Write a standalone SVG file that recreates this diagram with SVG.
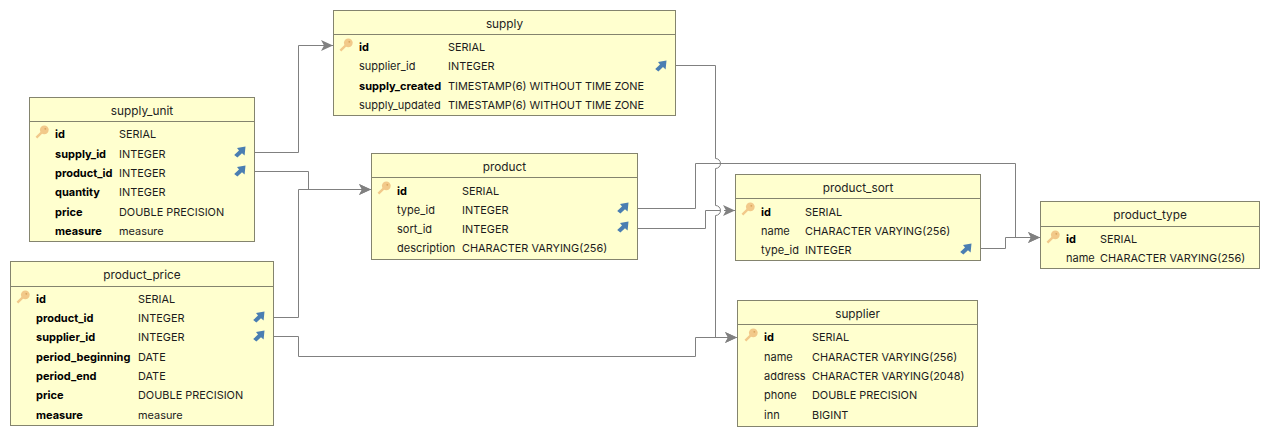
<svg xmlns="http://www.w3.org/2000/svg" width="1269" height="436" viewBox="0 0 1269 436">
<style>
text{font-family:Inter,"Noto Sans","Liberation Sans",sans-serif;font-size:11px;fill:#1c1c1c}
.t{font-size:11.8px;text-anchor:middle;fill:#222}
.b{font-weight:700;fill:#000}
.d{font-size:10.92px}
.box{fill:#ffffcf;stroke:#84846e;stroke-width:1}
.h{stroke:#84846e;stroke-width:1;fill:none}
.c{fill:none;stroke:#808080;stroke-width:1}
</style>
<defs>
<marker id="a" markerUnits="userSpaceOnUse" markerWidth="13" markerHeight="12" refX="12" refY="6" orient="auto"><path d="M0 0.5L12 6L0 11.5L3 6Z" fill="#808080"/></marker>
<g id="key"><circle cx="9.3" cy="4.8" r="4.4" fill="#f2c98a"/><circle cx="10.3" cy="3.8" r="0.9" fill="#d9a55c"/><path d="M6.5 7.6L1.4 12.7" stroke="#f2c98a" stroke-width="2.4" fill="none"/></g>
<g id="fk"><path d="M3 1.5L11.5 0L10.6 9L8 6.6L3.4 11L0.2 8.4L5 4Z" fill="#4a7eb2"/></g>
</defs>
<g id="connectors">
<path class="c" marker-end="url(#a)" d="M676 65.5H715.5V158.5A5 5 0 0 1 715.5 168.5V205.5A5 5 0 0 1 715.5 215.5V337.5H737"/>
<path class="c" marker-end="url(#a)" d="M638 208.5H695.5V163.5H1015.5V237.5H1040"/>
<path class="c" d="M638 228.5H705.5V210.5H720.5"/>
<path class="c" marker-end="url(#a)" d="M724 210.5H735"/>
<path class="c" marker-end="url(#a)" d="M981 248.5H1005.5V237.5H1040"/>
<path class="c" marker-end="url(#a)" d="M255 152.5H298.5V45.5H333"/>
<path class="c" marker-end="url(#a)" d="M255 171.5H308.5V189.5H371"/>
<path class="c" marker-end="url(#a)" d="M274 317.5H298.5V189.5H371"/>
<path class="c" marker-end="url(#a)" d="M274 336.5H298.5V356.5H695.5V337.5H737"/>
</g>
<g id="supply">
<rect class="box" x="333.5" y="10.5" width="342" height="105"/><path class="h" d="M333.5 34.5H675.5"/>
<text class="t" x="504.5" y="28">supply</text>
<use href="#key" x="339" y="38"/><use href="#fk" x="655" y="60.5"/>
<text class="b" x="359" y="51">id</text><text class="d" x="448" y="51">SERIAL</text>
<text x="359" y="70">supplier_id</text><text class="d" x="448" y="70">INTEGER</text>
<text class="b" x="359" y="90">supply_created</text><text class="d" x="448" y="90">TIMESTAMP(6) WITHOUT TIME ZONE</text>
<text x="359" y="109">supply_updated</text><text class="d" x="448" y="109">TIMESTAMP(6) WITHOUT TIME ZONE</text>
</g>
<g id="supply_unit">
<rect class="box" x="29.5" y="97.5" width="225" height="144"/><path class="h" d="M29.5 121.5H254.5"/>
<text class="t" x="142" y="115">supply_unit</text>
<use href="#key" x="35" y="125"/><use href="#fk" x="234" y="146.6"/><use href="#fk" x="234" y="165.6"/>
<text class="b" x="55" y="138">id</text><text class="d" x="119" y="138">SERIAL</text>
<text class="b" x="55" y="158">supply_id</text><text class="d" x="119" y="158">INTEGER</text>
<text class="b" x="55" y="177">product_id</text><text class="d" x="119" y="177">INTEGER</text>
<text class="b" x="55" y="196">quantity</text><text class="d" x="119" y="196">INTEGER</text>
<text class="b" x="55" y="216">price</text><text class="d" x="119" y="216">DOUBLE PRECISION</text>
<text class="b" x="55" y="235">measure</text><text class="d" x="119" y="235">measure</text>
</g>
<g id="product_price">
<rect class="box" x="10.5" y="261.5" width="263" height="164"/><path class="h" d="M10.5 286.5H273.5"/>
<text class="t" x="142" y="279">product_price</text>
<use href="#key" x="16" y="290"/><use href="#fk" x="253" y="311.6"/><use href="#fk" x="253" y="330.6"/>
<text class="b" x="36" y="303">id</text><text class="d" x="138" y="303">SERIAL</text>
<text class="b" x="36" y="322">product_id</text><text class="d" x="138" y="322">INTEGER</text>
<text class="b" x="36" y="341">supplier_id</text><text class="d" x="138" y="341">INTEGER</text>
<text class="b" x="36" y="361">period_beginning</text><text class="d" x="138" y="361">DATE</text>
<text class="b" x="36" y="380">period_end</text><text class="d" x="138" y="380">DATE</text>
<text class="b" x="36" y="399">price</text><text class="d" x="138" y="399">DOUBLE PRECISION</text>
<text class="b" x="36" y="419">measure</text><text class="d" x="138" y="419">measure</text>
</g>
<g id="product">
<rect class="box" x="371.5" y="153.5" width="266" height="106"/><path class="h" d="M371.5 177.5H637.5"/>
<text class="t" x="504.5" y="171">product</text>
<use href="#key" x="377" y="181"/><use href="#fk" x="617" y="202.6"/><use href="#fk" x="617" y="221.6"/>
<text class="b" x="397" y="195">id</text><text class="d" x="462" y="195">SERIAL</text>
<text x="397" y="214">type_id</text><text class="d" x="462" y="214">INTEGER</text>
<text x="397" y="233">sort_id</text><text class="d" x="462" y="233">INTEGER</text>
<text x="397" y="252">description</text><text class="d" x="462" y="252">CHARACTER VARYING(256)</text>
</g>
<g id="product_sort">
<rect class="box" x="735.5" y="174.5" width="245" height="86"/><path class="h" d="M735.5 198.5H980.5"/>
<text class="t" x="858" y="192">product_sort</text>
<use href="#key" x="741" y="202"/><use href="#fk" x="960" y="243.6"/>
<text class="b" x="761" y="216">id</text><text class="d" x="805" y="216">SERIAL</text>
<text x="761" y="235">name</text><text class="d" x="805" y="235">CHARACTER VARYING(256)</text>
<text x="761" y="254">type_id</text><text class="d" x="805" y="254">INTEGER</text>
</g>
<g id="product_type">
<rect class="box" x="1040.5" y="201.5" width="219" height="67"/><path class="h" d="M1040.5 226.5H1259.5"/>
<text class="t" x="1150" y="219">product_type</text>
<use href="#key" x="1046" y="230"/>
<text class="b" x="1066" y="243">id</text><text class="d" x="1100" y="243">SERIAL</text>
<text x="1066" y="262">name</text><text class="d" x="1100" y="262">CHARACTER VARYING(256)</text>
</g>
<g id="supplier">
<rect class="box" x="737.5" y="300.5" width="240" height="126"/><path class="h" d="M737.5 324.5H977.5"/>
<text class="t" x="857.5" y="318">supplier</text>
<use href="#key" x="744" y="328"/>
<text class="b" x="764" y="341">id</text><text class="d" x="812" y="341">SERIAL</text>
<text x="764" y="361">name</text><text class="d" x="812" y="361">CHARACTER VARYING(256)</text>
<text x="764" y="380">address</text><text class="d" x="812" y="380">CHARACTER VARYING(2048)</text>
<text x="764" y="399">phone</text><text class="d" x="812" y="399">DOUBLE PRECISION</text>
<text x="764" y="419">inn</text><text class="d" x="812" y="419">BIGINT</text>
</g>
</svg>
